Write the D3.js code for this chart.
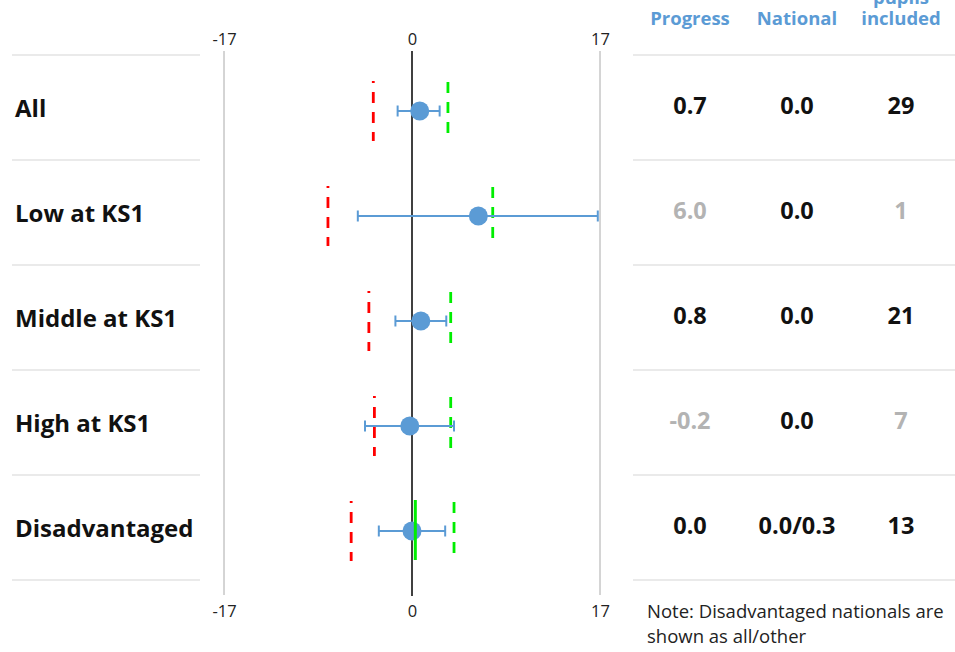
<!DOCTYPE html>
<html>
<head>
<meta charset="utf-8">
<script src="https://cdn.jsdelivr.net/npm/d3@7"></script>
<style>
  body { margin: 0; background: #fff; }
  svg { display: block; font-family: "Open Sans", sans-serif; }
</style>
</head>
<body>
<svg id="chart" width="955" height="652"></svg>
<script>
// ---- data ----
const categories = ["All", "Low at KS1", "Middle at KS1", "High at KS1", "Disadvantaged"];
const progress   = [0.7, 6.0, 0.8, -0.2, 0.0];
const ciLow      = [-1.3, -4.9, -1.5, -4.25, -3.0];
const ciHigh     = [2.5, 16.8, 3.1, 3.8, 3.0];
const lowerThreshold = [-3.5, -7.6, -3.9, -3.4, -5.5];
const upperThreshold = [3.25, 7.3, 3.5, 3.5, 3.8];
const nationalLine   = [null, null, null, null, 0.3];
const progressLabels = ["0.7", "6.0", "0.8", "-0.2", "0.0"];
const nationalLabels = ["0.0", "0.0", "0.0", "0.0", "0.0/0.3"];
const pupilLabels    = ["29", "1", "21", "7", "13"];
const muted          = [false, true, false, true, false];
const tickValues = [-17, 0, 17];
const tickLabels = ["-17", "0", "17"];
const headers = [["Progress"], ["National"], ["pupils", "included"]];
const noteLines = ["Note: Disadvantaged nationals are", "shown as all/other"];

const svg = d3.select("#chart");
const blue = "#5b9bd5";

const x = d3.scaleLinear().domain([-17, 17]).range([224, 600]);
const y = d3.scaleBand().domain(categories).range([55, 580]);

// row separators
const seps = d3.range(categories.length + 1).map(i => 55 + i * y.step());
[[12, 200], [633, 955]].forEach(([a, b]) => {
  svg.append("g").selectAll("line").data(seps).join("line")
    .attr("x1", a).attr("x2", b).attr("y1", d => d).attr("y2", d => d)
    .attr("stroke", "#e3e3e3").attr("stroke-width", 1.5);
});

// axes (top and bottom)
const fmt = d => tickLabels[tickValues.indexOf(d)];
const topAxis = d3.axisTop(x).tickValues(tickValues).tickSize(0).tickPadding(0).tickFormat(fmt);
const botAxis = d3.axisBottom(x).tickValues(tickValues).tickSize(0).tickPadding(0).tickFormat(fmt);
const gt = svg.append("g").attr("transform", "translate(0,45)").call(topAxis);
const gb = svg.append("g").attr("transform", "translate(0,600)").call(botAxis);
[gt, gb].forEach(g => {
  g.select(".domain").remove();
  g.selectAll("text").attr("font-size", 16.5).attr("fill", "#222").attr("font-family", "Open Sans");
});
gb.selectAll("text").attr("dy", "1em");

// vertical grid lines
svg.append("g").selectAll("line").data(tickValues).join("line")
  .attr("x1", d => x(d)).attr("x2", d => x(d))
  .attr("y1", 51).attr("y2", d => d === 0 ? 596 : 595)
  .attr("stroke", d => d === 0 ? "#000" : "#aaa")
  .attr("stroke-width", d => d === 0 ? 1.5 : 1);

// row labels
svg.append("g").selectAll("text").data(categories).join("text")
  .attr("x", 15).attr("y", d => y(d) + y.bandwidth() / 2 + 1)
  .attr("dy", "0.35em")
  .attr("font-size", 24).attr("font-weight", 700).attr("fill", "#111")
  .text(d => d);

const rows = categories.map((c, i) => ({ c, i }));
const my = d => y(d.c) + 56;

// threshold dashed lines
svg.append("g").selectAll("line").data(rows).join("line")
  .attr("x1", d => x(lowerThreshold[d.i])).attr("x2", d => x(lowerThreshold[d.i]))
  .attr("y1", d => y(d.c) + 26).attr("y2", d => y(d.c) + 86)
  .attr("stroke", "#ff0000").attr("stroke-width", 2.8)
  .attr("stroke-dasharray", "11,9").attr("stroke-dashoffset", 9);
svg.append("g").selectAll("line").data(rows).join("line")
  .attr("x1", d => x(upperThreshold[d.i])).attr("x2", d => x(upperThreshold[d.i]))
  .attr("y1", d => y(d.c) + 27).attr("y2", d => y(d.c) + 85)
  .attr("stroke", "#00ee00").attr("stroke-width", 2.8)
  .attr("stroke-dasharray", "11,9");

// error bars
const eb = svg.append("g").selectAll("g").data(rows).join("g");
eb.append("line")
  .attr("x1", d => x(ciLow[d.i])).attr("x2", d => x(ciHigh[d.i]))
  .attr("y1", my).attr("y2", my)
  .attr("stroke", blue).attr("stroke-width", 2);
eb.append("line")
  .attr("x1", d => x(ciLow[d.i])).attr("x2", d => x(ciLow[d.i]))
  .attr("y1", d => my(d) - 5.5).attr("y2", d => my(d) + 5.5)
  .attr("stroke", blue).attr("stroke-width", 2);
eb.append("line")
  .attr("x1", d => x(ciHigh[d.i])).attr("x2", d => x(ciHigh[d.i]))
  .attr("y1", d => my(d) - 5.5).attr("y2", d => my(d) + 5.5)
  .attr("stroke", blue).attr("stroke-width", 2);

// points
svg.append("g").selectAll("circle").data(rows).join("circle")
  .attr("cx", d => x(progress[d.i])).attr("cy", my).attr("r", 9.5)
  .attr("fill", blue);

// national solid lines (disadvantaged)
svg.append("g").selectAll("line").data(rows.filter(d => nationalLine[d.i] !== null)).join("line")
  .attr("x1", d => x(nationalLine[d.i])).attr("x2", d => x(nationalLine[d.i]))
  .attr("y1", d => y(d.c) + 25).attr("y2", d => y(d.c) + 85)
  .attr("stroke", "#00ee00").attr("stroke-width", 3);

// table headers
const colX = [690, 797, 901];
headers.forEach((lines, j) => {
  const t = svg.append("text").attr("text-anchor", "middle")
    .attr("font-size", 18.5).attr("font-weight", 700).attr("fill", blue);
  lines.forEach((ln, k) => {
    t.append("tspan").attr("x", colX[j])
      .attr("y", 25 - (lines.length - 1 - k) * 21).text(ln);
  });
});

// table values
const cols = [progressLabels, nationalLabels, pupilLabels];
cols.forEach((vals, j) => {
  svg.append("g").selectAll("text").data(rows).join("text")
    .attr("x", colX[j]).attr("y", d => y(d.c) + y.bandwidth() / 2 - 2)
    .attr("dy", "0.35em").attr("text-anchor", "middle")
    .attr("font-size", 23.5).attr("font-weight", 700)
    .attr("fill", d => (j !== 1 && muted[d.i]) ? "#b3b3b3" : "#111")
    .text(d => vals[d.i]);
});

// note
svg.append("g").selectAll("text").data(noteLines).join("text")
  .attr("x", 647).attr("y", (d, i) => 618 + i * 25)
  .attr("font-size", 18.5).attr("fill", "#222")
  .text(d => d);
</script>
</body>
</html>
